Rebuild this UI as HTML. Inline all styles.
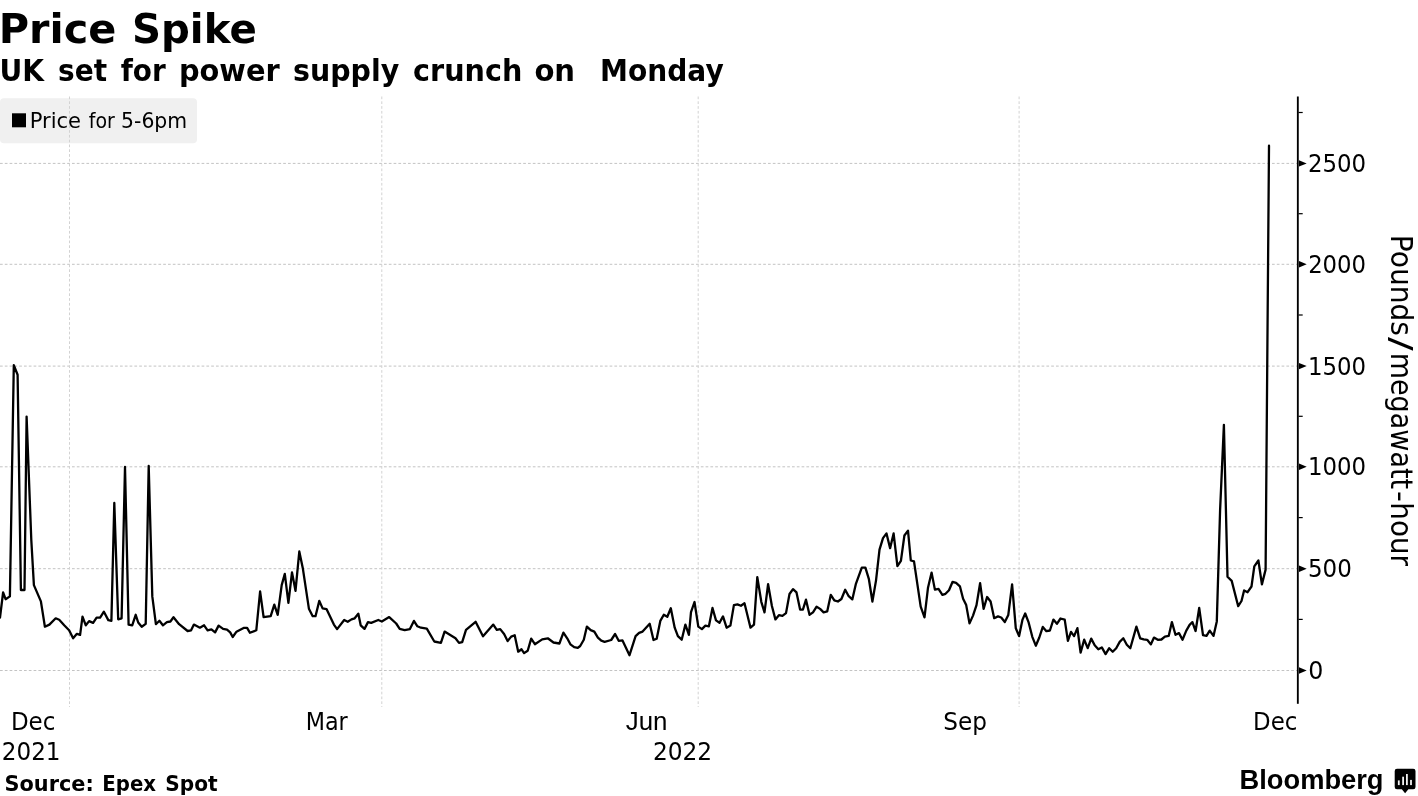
<!DOCTYPE html>
<html lang="en"><head><meta charset="utf-8"><title>Price Spike</title>
<style>html,body{margin:0;padding:0;background:#fff}body{width:1418px;height:796px;overflow:hidden}svg{display:block}text{fill:#000}</style>
</head><body>
<svg width="1418" height="796" viewBox="0 0 1418 796" role="img" aria-label="Price Spike chart">
<rect width="1418" height="796" fill="#fff"/>
<rect x="0" y="98.2" width="197" height="45" rx="4" ry="4" fill="#f0f0f0"/>
<g stroke="#c3c3c3" stroke-width="1" stroke-dasharray="2.7 2.1" fill="none">
<line x1="0" y1="163.4" x2="1297" y2="163.4"/>
<line x1="0" y1="264.3" x2="1297" y2="264.3"/>
<line x1="0" y1="366.1" x2="1297" y2="366.1"/>
<line x1="0" y1="466.8" x2="1297" y2="466.8"/>
<line x1="0" y1="568.7" x2="1297" y2="568.7"/>
<line x1="0" y1="670.5" x2="1297" y2="670.5"/>
<line x1="69.5" y1="96.5" x2="69.5" y2="707" stroke="#d2d2d2"/>
<line x1="381.8" y1="96.5" x2="381.8" y2="707" stroke="#d2d2d2"/>
<line x1="698.2" y1="96.5" x2="698.2" y2="707" stroke="#d2d2d2"/>
<line x1="1019.1" y1="96.5" x2="1019.1" y2="707" stroke="#d2d2d2"/>
</g>
<rect x="1296.9" y="96.5" width="1.85" height="607.3" fill="#000"/>
<path d="M1299 160.2 L1306.7 163.4 L1299 166.6 Z" fill="#000"/>
<path d="M1299 261.1 L1306.7 264.3 L1299 267.5 Z" fill="#000"/>
<path d="M1299 362.9 L1306.7 366.1 L1299 369.3 Z" fill="#000"/>
<path d="M1299 463.6 L1306.7 466.8 L1299 470.0 Z" fill="#000"/>
<path d="M1299 565.5 L1306.7 568.7 L1299 571.9 Z" fill="#000"/>
<path d="M1299 667.3 L1306.7 670.5 L1299 673.7 Z" fill="#000"/>
<rect x="1298.5" y="111.9" width="4.2" height="1.2" fill="#000"/>
<rect x="1298.5" y="213.1" width="4.2" height="1.2" fill="#000"/>
<rect x="1298.5" y="314.4" width="4.2" height="1.2" fill="#000"/>
<rect x="1298.5" y="415.7" width="4.2" height="1.2" fill="#000"/>
<rect x="1298.5" y="517.0" width="4.2" height="1.2" fill="#000"/>
<rect x="1298.5" y="618.8" width="4.2" height="1.2" fill="#000"/>
<path d="M0.0 617.6 L3.1 592.5 L5.6 599.2 L9.9 596.4 L13.8 365.2 L17.6 374.7 L20.9 590.0 L24.5 590.0 L26.6 416.6 L31.3 540.0 L33.9 585.1 L40.9 601.4 L44.9 626.7 L49.4 624.6 L55.7 618.3 L59.2 619.7 L64.2 625.3 L69.1 630.3 L73.1 638.3 L76.9 633.8 L80.1 634.8 L82.5 616.6 L85.8 625.3 L89.1 621.1 L93.1 622.9 L96.6 617.6 L100.1 617.6 L103.9 611.7 L108.3 620.1 L111.4 620.8 L114.3 503.0 L118.2 619.3 L121.6 618.3 L125.0 467.0 L128.6 624.6 L132.2 625.3 L135.7 614.8 L138.2 622.5 L141.7 626.7 L145.7 623.9 L148.7 466.0 L152.3 596.4 L155.9 624.2 L159.4 620.8 L162.9 625.3 L166.9 622.2 L170.4 621.5 L173.5 617.3 L179.1 624.2 L187.6 631.0 L191.1 630.3 L193.9 624.6 L199.9 627.7 L204.1 625.3 L207.6 630.3 L211.4 629.3 L215.1 632.4 L218.6 625.6 L223.1 628.9 L227.0 629.6 L230.2 632.4 L232.7 637.0 L236.5 631.7 L243.6 627.9 L247.1 627.9 L249.9 632.8 L256.3 630.3 L260.1 591.5 L263.6 617.2 L270.7 616.2 L274.3 604.6 L277.7 614.8 L281.7 585.1 L284.8 573.9 L288.4 602.8 L292.0 572.4 L295.5 590.8 L299.3 551.5 L302.8 568.2 L308.9 608.7 L312.7 616.2 L315.5 616.2 L319.3 600.9 L322.6 608.4 L326.5 609.1 L333.9 624.6 L337.1 629.1 L344.2 620.0 L347.7 621.8 L351.5 619.4 L354.7 618.3 L358.3 613.6 L360.7 625.3 L364.5 628.9 L368.0 622.1 L371.2 622.9 L378.3 620.0 L381.8 621.5 L389.2 617.1 L396.2 623.5 L399.7 628.8 L404.7 630.1 L409.9 629.1 L413.9 620.9 L417.4 626.3 L420.9 627.7 L426.8 628.7 L434.3 641.5 L440.9 642.8 L444.6 631.6 L455.5 638.3 L459.0 642.9 L462.2 642.2 L466.0 629.8 L475.6 621.8 L483.0 636.2 L493.3 624.6 L496.8 629.8 L500.2 629.1 L504.1 634.0 L507.6 641.1 L511.2 636.6 L514.7 635.2 L518.2 651.7 L521.5 649.3 L524.1 653.1 L527.7 650.7 L531.2 638.6 L534.9 644.2 L542.2 639.4 L547.8 638.3 L553.5 642.5 L559.4 643.5 L563.4 632.6 L567.2 638.3 L570.4 644.3 L574.2 647.2 L577.8 647.9 L580.2 646.0 L583.8 639.7 L586.9 626.6 L590.7 630.1 L594.3 631.6 L597.9 637.6 L601.3 640.7 L604.6 641.8 L611.2 640.0 L615.1 634.0 L618.7 640.8 L622.5 640.4 L629.5 655.2 L635.6 636.2 L639.1 632.9 L642.6 631.6 L649.7 623.8 L653.5 640.0 L656.7 638.7 L660.3 620.9 L663.8 614.7 L667.3 616.8 L670.8 608.2 L674.7 627.7 L677.9 636.2 L681.7 639.7 L685.4 624.6 L688.9 634.8 L691.0 612.2 L694.5 602.0 L698.3 626.6 L701.9 629.1 L705.4 625.6 L708.9 626.3 L712.5 608.0 L716.0 620.4 L719.5 622.8 L723.0 616.4 L726.6 627.7 L730.4 625.6 L733.9 605.1 L737.4 604.4 L740.9 605.8 L744.5 603.3 L750.5 627.7 L754.0 624.6 L757.3 577.1 L761.3 601.8 L764.5 612.4 L768.1 584.2 L771.9 606.0 L775.4 619.4 L778.9 615.2 L782.4 615.9 L786.0 613.1 L789.5 594.0 L793.0 589.1 L796.5 592.4 L800.1 609.6 L802.9 609.6 L806.0 599.7 L809.5 614.8 L813.0 612.4 L816.6 606.7 L820.1 608.9 L823.6 612.4 L827.2 611.4 L830.8 594.8 L834.3 600.4 L837.9 601.5 L841.4 599.0 L845.2 589.8 L848.7 596.2 L852.3 599.4 L855.8 584.2 L861.8 567.7 L865.4 567.7 L868.9 579.2 L872.4 601.5 L876.0 580.6 L879.5 549.6 L883.0 538.1 L886.5 533.4 L890.1 548.2 L893.6 533.4 L897.4 566.1 L900.9 560.9 L904.4 535.5 L908.0 530.6 L910.8 560.5 L914.0 561.3 L920.7 606.7 L924.5 617.3 L928.0 587.7 L931.6 572.6 L934.9 589.6 L938.5 588.9 L942.4 594.8 L945.5 593.8 L949.0 590.3 L952.6 581.8 L956.1 582.8 L959.9 586.3 L963.1 598.7 L966.2 605.1 L969.5 623.4 L973.0 615.6 L976.5 605.1 L980.1 583.2 L983.6 608.9 L987.1 597.0 L990.6 601.5 L994.2 618.2 L998.0 616.4 L1001.2 617.5 L1004.8 622.0 L1008.3 614.9 L1012.1 584.3 L1015.8 628.3 L1019.1 636.1 L1022.4 619.9 L1025.2 613.5 L1028.7 622.7 L1032.3 636.8 L1035.8 645.7 L1039.3 637.5 L1042.8 626.9 L1046.4 631.2 L1049.9 630.5 L1053.4 619.6 L1056.9 623.8 L1060.5 618.5 L1064.7 619.6 L1067.9 640.8 L1071.0 631.9 L1074.1 636.1 L1077.4 628.1 L1080.6 652.6 L1084.2 639.6 L1087.7 648.1 L1091.2 638.6 L1094.7 645.3 L1098.3 649.2 L1101.8 647.4 L1105.6 654.1 L1109.2 648.2 L1112.7 651.7 L1116.2 648.2 L1119.7 641.9 L1123.3 638.3 L1126.8 644.7 L1130.3 648.2 L1136.4 626.6 L1140.2 638.3 L1143.7 639.3 L1147.2 639.8 L1150.8 644.4 L1154.0 637.6 L1157.8 639.8 L1161.4 639.5 L1164.9 636.6 L1168.7 635.9 L1171.9 622.1 L1175.5 634.8 L1179.0 633.1 L1182.5 639.8 L1186.3 630.6 L1189.6 624.9 L1192.4 622.1 L1195.6 631.0 L1199.2 608.0 L1203.0 635.1 L1206.5 635.9 L1209.7 630.6 L1213.5 635.9 L1216.8 621.4 L1220.1 510.0 L1223.9 424.8 L1227.5 576.7 L1231.7 580.9 L1238.2 606.2 L1241.5 601.0 L1244.1 590.4 L1247.6 592.2 L1251.5 586.5 L1254.3 566.4 L1258.4 560.5 L1261.9 584.4 L1265.6 569.6 L1269.0 145.7" fill="none" stroke="#000" stroke-width="2.3" stroke-linejoin="round" stroke-linecap="round"/>
<rect x="12" y="113.3" width="14" height="14" fill="#000"/>
<text y="127.7" font-family="'DejaVu Sans','Liberation Sans',sans-serif" font-weight="normal" font-size="20.7" xml:space="preserve"><tspan x="29.69" textLength="51.35" lengthAdjust="spacingAndGlyphs">Price</tspan> <tspan x="88.73" textLength="26.07" lengthAdjust="spacingAndGlyphs">for</tspan> <tspan x="121.07" textLength="66.11" lengthAdjust="spacingAndGlyphs">5-6pm</tspan></text>
<text y="42.5" font-family="'DejaVu Sans','Liberation Sans',sans-serif" font-weight="bold" font-size="40.8" xml:space="preserve"><tspan x="-1.33" textLength="117.59" lengthAdjust="spacingAndGlyphs">Price</tspan> <tspan x="131.98" textLength="124.75" lengthAdjust="spacingAndGlyphs">Spike</tspan></text>
<text y="80.7" font-family="'DejaVu Sans','Liberation Sans',sans-serif" font-weight="bold" font-size="29.6" xml:space="preserve"><tspan x="-0.43" textLength="44.54" lengthAdjust="spacingAndGlyphs">UK</tspan> <tspan x="58.10" textLength="49.00" lengthAdjust="spacingAndGlyphs">set</tspan> <tspan x="120.74" textLength="44.96" lengthAdjust="spacingAndGlyphs">for</tspan> <tspan x="178.95" textLength="100.84" lengthAdjust="spacingAndGlyphs">power</tspan> <tspan x="292.98" textLength="106.25" lengthAdjust="spacingAndGlyphs">supply</tspan> <tspan x="413.11" textLength="109.26" lengthAdjust="spacingAndGlyphs">crunch</tspan> <tspan x="534.39" textLength="40.71" lengthAdjust="spacingAndGlyphs">on</tspan>  <tspan x="600.07" textLength="123.61" lengthAdjust="spacingAndGlyphs">Monday</tspan></text>
<text x="1307.95" y="171.9" font-family="'DejaVu Sans Condensed','DejaVu Sans','Liberation Sans',sans-serif" font-weight="normal" font-size="25.5" textLength="58.15" lengthAdjust="spacingAndGlyphs">2500</text>
<text x="1308.15" y="272.8" font-family="'DejaVu Sans Condensed','DejaVu Sans','Liberation Sans',sans-serif" font-weight="normal" font-size="25.5" textLength="57.94" lengthAdjust="spacingAndGlyphs">2000</text>
<text x="1308.06" y="374.6" font-family="'DejaVu Sans Condensed','DejaVu Sans','Liberation Sans',sans-serif" font-weight="normal" font-size="25.5" textLength="58.03" lengthAdjust="spacingAndGlyphs">1500</text>
<text x="1308.06" y="475.3" font-family="'DejaVu Sans Condensed','DejaVu Sans','Liberation Sans',sans-serif" font-weight="normal" font-size="25.5" textLength="58.03" lengthAdjust="spacingAndGlyphs">1000</text>
<text x="1307.91" y="577.2" font-family="'DejaVu Sans Condensed','DejaVu Sans','Liberation Sans',sans-serif" font-weight="normal" font-size="25.5" textLength="43.84" lengthAdjust="spacingAndGlyphs">500</text>
<text x="1308.32" y="679.0" font-family="'DejaVu Sans Condensed','DejaVu Sans','Liberation Sans',sans-serif" font-weight="normal" font-size="25.5" textLength="15.09" lengthAdjust="spacingAndGlyphs">0</text>
<text x="10.90" y="730.2" font-family="'DejaVu Sans Condensed','DejaVu Sans','Liberation Sans',sans-serif" font-weight="normal" font-size="25.4" textLength="44.54" lengthAdjust="spacingAndGlyphs">Dec</text>
<text x="305.67" y="730.2" font-family="'DejaVu Sans Condensed','DejaVu Sans','Liberation Sans',sans-serif" font-weight="normal" font-size="25.4" textLength="42.06" lengthAdjust="spacingAndGlyphs">Mar</text>
<text x="625.71" y="730.2" font-family="'Liberation Sans','DejaVu Sans',sans-serif" font-weight="normal" font-size="25.8" textLength="41.73" lengthAdjust="spacingAndGlyphs">Jun</text>
<text x="943.36" y="730.2" font-family="'DejaVu Sans Condensed','DejaVu Sans','Liberation Sans',sans-serif" font-weight="normal" font-size="25.4" textLength="43.67" lengthAdjust="spacingAndGlyphs">Sep</text>
<text x="1253.01" y="730.2" font-family="'DejaVu Sans Condensed','DejaVu Sans','Liberation Sans',sans-serif" font-weight="normal" font-size="25.4" textLength="44.32" lengthAdjust="spacingAndGlyphs">Dec</text>
<text x="1.83" y="760.1" font-family="'DejaVu Sans Condensed','DejaVu Sans','Liberation Sans',sans-serif" font-weight="normal" font-size="25.4" textLength="58.72" lengthAdjust="spacingAndGlyphs">2021</text>
<text x="652.92" y="760.1" font-family="'DejaVu Sans Condensed','DejaVu Sans','Liberation Sans',sans-serif" font-weight="normal" font-size="25.4" textLength="59.29" lengthAdjust="spacingAndGlyphs">2022</text>
<text transform="translate(1390.7 0) rotate(90)" font-family="'DejaVu Sans Condensed','DejaVu Sans','Liberation Sans',sans-serif" font-weight="normal" font-size="30.4"><tspan x="234.89" y="0" textLength="101.15" lengthAdjust="spacingAndGlyphs">Pounds</tspan><tspan x="337.10" y="0" textLength="13.75" lengthAdjust="spacingAndGlyphs">/</tspan><tspan x="352.70" y="0" textLength="136.40" lengthAdjust="spacingAndGlyphs">megawatt</tspan><tspan x="490.99" y="0" textLength="10.92" lengthAdjust="spacingAndGlyphs">-</tspan><tspan x="502.33" y="0" textLength="63.69" lengthAdjust="spacingAndGlyphs">hour</tspan></text>
<text y="790.8" font-family="'DejaVu Sans','Liberation Sans',sans-serif" font-weight="bold" font-size="20.7" xml:space="preserve"><tspan x="4.44" textLength="89.32" lengthAdjust="spacingAndGlyphs">Source:</tspan> <tspan x="102.32" textLength="53.72" lengthAdjust="spacingAndGlyphs">Epex</tspan> <tspan x="165.29" textLength="52.33" lengthAdjust="spacingAndGlyphs">Spot</tspan></text>
<text x="1239.53" y="789.4" font-family="'Liberation Sans','DejaVu Sans',sans-serif" font-weight="bold" font-size="28.2" textLength="144.03" lengthAdjust="spacingAndGlyphs">Bloomberg</text>
<g><path d="M1397 768.8 h16.2 a2.3 2.3 0 0 1 2.3 2.3 v15.9 a2.3 2.3 0 0 1 -2.3 2.3 h-4.8 l-3.3 4 l-3.3 -4 h-4.8 a2.3 2.3 0 0 1 -2.3 -2.3 v-15.9 a2.3 2.3 0 0 1 2.3 -2.3 z" fill="#000"/>
<rect x="1397.9" y="780.4" width="1.8" height="4.7" fill="#f2f2f2"/>
<rect x="1402.2" y="776.7" width="1.8" height="8.4" fill="#f2f2f2"/>
<rect x="1406" y="774" width="1.8" height="11.1" fill="#f2f2f2"/>
<rect x="1410.1" y="779.9" width="1.8" height="5.2" fill="#f2f2f2"/>
</g>
</svg></body></html>
